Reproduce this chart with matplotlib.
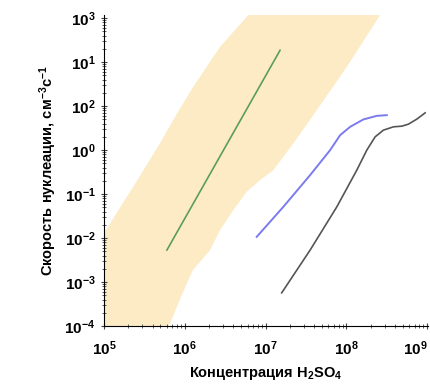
import numpy as np
import matplotlib.pyplot as plt

plt.rcParams['font.family'] = ['Liberation Sans', 'DejaVu Sans']
plt.rcParams['font.weight'] = 'bold'
plt.rcParams['mathtext.fontset'] = 'custom'
plt.rcParams['mathtext.rm'] = 'Liberation Sans:bold'
plt.rcParams['mathtext.bf'] = 'Liberation Sans:bold'
plt.rcParams['mathtext.it'] = 'Liberation Sans:bold'
plt.rcParams['mathtext.default'] = 'bf'

# полоса (log10 координаты)
band_left_x = [5.0, 5.36, 5.693, 5.9, 6.106, 6.437, 6.787]
band_left_y = [-1.89, -0.84, 0.152, 0.82, 1.439, 2.348, 3.07]
band_right_x = [8.418, 8.006, 7.634, 7.344, 7.097, 6.932, 6.767, 6.601,
                6.437, 6.313, 6.10, 5.95, 5.82, 5.79]
band_right_y = [3.07, 1.893, 0.909, 0.152, -0.455, -0.682, -0.947, -1.364,
                -1.818, -2.273, -2.73, -3.35, -3.93, -4.0]

green_x = [5.78, 7.18]
green_y = [-2.27, 2.27]

blue_x = [6.891, 7.220, 7.551, 7.799, 7.923, 8.047, 8.211, 8.377, 8.501]
blue_y = [-1.970, -1.289, -0.568, 0.0, 0.341, 0.530, 0.698, 0.780, 0.795]

black_x = [7.200, 7.551, 7.882, 8.129, 8.253, 8.356, 8.459, 8.583, 8.687,
           8.768, 8.872, 8.975]
black_y = [-3.243, -2.273, -1.289, -0.455, 0.0, 0.302, 0.455, 0.530, 0.545,
           0.591, 0.705, 0.848]

xticks = [1e5, 1e6, 1e7, 1e8, 1e9]
xtick_labels = ['$10^{5}$', '$10^{6}$', '$10^{7}$', '$10^{8}$', '$10^{9}$']
yticks = [1e3, 1e2, 1e1, 1e0, 1e-1, 1e-2, 1e-3, 1e-4]
ytick_labels = ['$10^{3}$', '$10^{1}$', '$10^{2}$', '$10^{0}$',
                '$10^{-1}$', '$10^{-2}$', '$10^{-3}$', '$10^{-4}$']

fig = plt.figure(figsize=(4.31, 3.86), dpi=100)
ax = fig.add_axes([0.241, 0.155, 0.752, 0.806])

px = band_left_x + band_right_x + [5.0]
py = band_left_y + band_right_y + [-4.0]
ax.fill(10 ** np.array(px), 10 ** np.array(py), color='#fdebc6', lw=0)

ax.plot(10 ** np.array(green_x), 10 ** np.array(green_y), color='#5a9e5a', lw=1.2)
ax.plot(10 ** np.array(blue_x), 10 ** np.array(blue_y), color='#7b7bf0', lw=1.4,
        solid_joinstyle='round')
ax.plot(10 ** np.array(black_x), 10 ** np.array(black_y), color='#555555', lw=1.2,
        solid_joinstyle='round')

ax.set_xscale('log')
ax.set_yscale('log')
ax.set_xlim(1e5, 10 ** 9.01)
ax.set_ylim(1e-4, 10 ** 3.07)
ax.set_xticks(xticks)
ax.set_xticklabels(xtick_labels, fontsize=11)
ax.get_xticklabels()[-1].set_horizontalalignment('right')
ax.set_yticks(yticks)
ax.set_yticklabels(ytick_labels, fontsize=11)

ax.spines['top'].set_visible(False)
ax.spines['right'].set_visible(False)
ax.tick_params(which='both', direction='inout', color='#444444')
ax.tick_params(which='major', length=5)
ax.tick_params(which='minor', length=3)
ax.tick_params(axis='x', pad=7)

ax.set_xlabel('Концентрация H$_{2}$SO$_{4}$', fontsize=10.5, fontweight='bold',
              labelpad=5)
ax.set_ylabel('Скорость нуклеации, см$^{-3}$с$^{-1}$', fontsize=10.5, fontweight='bold')

fig.savefig('out.png', dpi=100)
